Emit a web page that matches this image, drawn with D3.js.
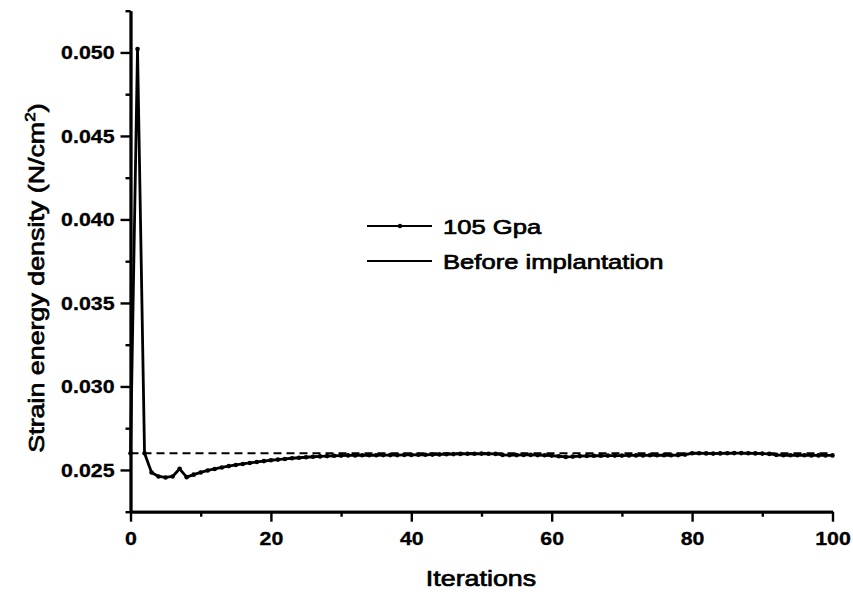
<!DOCTYPE html>
<html>
<head>
<meta charset="utf-8">
<script src="https://cdn.jsdelivr.net/npm/d3@7"></script>
<style>
  html, body { margin: 0; padding: 0; background: #fff; }
  svg { display: block; }
  text { font-family: "Liberation Sans", Arial, Helvetica, sans-serif; fill: #000; }
</style>
</head>
<body>
<svg id="chart" width="853" height="594"></svg>
<script>
// Strain energy density per iteration, 105 GPa implant
const gpa105 = [
  0.02600, 0.05020, 0.02600, 0.02485, 0.02461, 0.02455, 0.02461, 0.02507, 0.02457, 0.02472,
  0.02485, 0.02497, 0.02506, 0.02515, 0.02523, 0.02530, 0.02536, 0.02542, 0.02548, 0.02553,
  0.02558, 0.02562, 0.02566, 0.02570, 0.02573, 0.02576, 0.02579, 0.02581, 0.02583, 0.02585,
  0.02586, 0.02587, 0.02587, 0.02588, 0.02588, 0.02588, 0.02589, 0.02589, 0.02589, 0.02590,
  0.02590, 0.02591, 0.02591, 0.02592, 0.02593, 0.02594, 0.02595, 0.02596, 0.02597, 0.02597,
  0.02598, 0.02597, 0.02596, 0.02590, 0.02589, 0.02589, 0.02590, 0.02590, 0.02589, 0.02588,
  0.02586, 0.02582, 0.02578, 0.02580, 0.02583, 0.02584, 0.02585, 0.02585, 0.02586, 0.02586,
  0.02586, 0.02587, 0.02587, 0.02587, 0.02588, 0.02588, 0.02588, 0.02588, 0.02589, 0.02592,
  0.02600, 0.02600, 0.02599, 0.02598, 0.02599, 0.02600, 0.02601, 0.02601, 0.02600, 0.02599,
  0.02598, 0.02596, 0.02590, 0.02588, 0.02588, 0.02588, 0.02588, 0.02587, 0.02587, 0.02587,
  0.02587
];
const iterations = gpa105.map((_, i) => i);

// Reference level before implantation
const beforeX = [0, 100];
const beforeY = [0.0260, 0.0260];

// Axis ticks
const xMajor = [0, 20, 40, 60, 80, 100];
const xMinor = [10, 30, 50, 70, 90];
const yMajor = [0.025, 0.030, 0.035, 0.040, 0.045, 0.050];
const yMinor = [0.0225, 0.0275, 0.0325, 0.0375, 0.0425, 0.0475, 0.0525];

const seriesNames = ["105 Gpa", "Before implantation"];

const SX = 1.22; // horizontal glyph stretch of the typeface

const svg = d3.select("#chart");
const x = d3.scaleLinear().domain([0, 100]).range([130.5, 832.5]);
const y = d3.scaleLinear().domain([0.0225, 0.0525]).range([511.7, 10.7]);

// Axes
function styleAxis(g) {
  g.select(".domain").attr("stroke", "#000").attr("stroke-width", 2.8);
  g.selectAll(".tick line").attr("stroke", "#000").attr("stroke-width", 2.4);
}

const xAxisMinor = d3.axisBottom(x).tickValues(xMinor).tickSize(5).tickSizeOuter(0).tickFormat("");
const xAxisMajor = d3.axisBottom(x).tickValues(xMajor).tickSize(10).tickSizeOuter(0).tickPadding(11)
  .tickFormat(d3.format("d"));
const yAxisMinor = d3.axisLeft(y).tickValues(yMinor).tickSize(5).tickSizeOuter(0).tickFormat("");
const yAxisMajor = d3.axisLeft(y).tickValues(yMajor).tickSize(10).tickSizeOuter(0).tickPadding(6)
  .tickFormat(d3.format(".3f"));

function styleTickText(sel) {
  sel.attr("font-size", 17.5).attr("font-weight", "bold")
    .attr("font-family", "'Liberation Sans', Arial, sans-serif")
    .attr("fill", "#000").attr("stroke", "#000").attr("stroke-width", 0.3);
}

const gx = svg.append("g").attr("transform", `translate(0,${y.range()[0]})`);
gx.append("g").call(xAxisMinor).call(styleAxis);
gx.append("g").call(xAxisMajor).call(styleAxis);
gx.selectAll("text").call(styleTickText)
  .attr("transform", `scale(${SX},1)`);

const gy = svg.append("g").attr("transform", `translate(${x.range()[0]},0)`);
gy.append("g").call(yAxisMinor).call(styleAxis);
gy.append("g").call(yAxisMajor).call(styleAxis);
gy.selectAll("text").call(styleTickText)
  .attr("x", -16 / SX)
  .attr("dy", "0.36em")
  .attr("transform", `scale(${SX},1)`);

// Dashed reference line
const line = d3.line().x(d => x(d[0])).y(d => y(d[1]));
svg.append("path")
  .datum(beforeX.map((v, i) => [v, beforeY[i]]))
  .attr("d", line)
  .attr("fill", "none")
  .attr("stroke", "#000")
  .attr("stroke-width", 2.2)
  .attr("stroke-dasharray", "8,5");

// 105 GPa curve with point markers
const pts = iterations.map((v, i) => [v, gpa105[i]]);
svg.append("path")
  .datum(pts)
  .attr("d", line)
  .attr("fill", "none")
  .attr("stroke", "#000")
  .attr("stroke-width", 2.8)
  .attr("stroke-linejoin", "round");
svg.append("g").selectAll("circle")
  .data(pts)
  .join("circle")
  .attr("cx", d => x(d[0]))
  .attr("cy", d => y(d[1]))
  .attr("r", 2.3)
  .attr("fill", "#000");

// Legend
const legend = svg.append("g");
const legendRows = [
  { name: seriesNames[0], y: 226, marker: true },
  { name: seriesNames[1], y: 261, marker: false }
];
legendRows.forEach(r => {
  legend.append("line")
    .attr("x1", 367).attr("x2", 432).attr("y1", r.y).attr("y2", r.y)
    .attr("stroke", "#000").attr("stroke-width", 2.2);
  if (r.marker) {
    legend.append("circle").attr("cx", 400).attr("cy", r.y).attr("r", 2.2).attr("fill", "#000");
  }
  legend.append("text")
    .attr("transform", `translate(443,${r.y + 7.5}) scale(${SX},1)`)
    .attr("font-size", 21)
    .attr("stroke", "#000").attr("stroke-width", 0.7)
    .text(r.name);
});

// Axis titles
svg.append("text")
  .attr("transform", `translate(481,586) scale(${SX},1)`)
  .attr("text-anchor", "middle")
  .attr("font-size", 22)
  .attr("stroke", "#000").attr("stroke-width", 0.7)
  .text("Iterations");

const yTitle = svg.append("text")
  .attr("transform", `translate(44,278) rotate(-90) scale(${SX},1)`)
  .attr("text-anchor", "middle")
  .attr("font-size", 22)
  .attr("stroke", "#000").attr("stroke-width", 0.7);
yTitle.append("tspan").text("Strain energy density (N/cm");
yTitle.append("tspan").attr("font-size", 14).attr("dy", -9).text("2");
yTitle.append("tspan").attr("dy", 9).text(")");
</script>
</body>
</html>
